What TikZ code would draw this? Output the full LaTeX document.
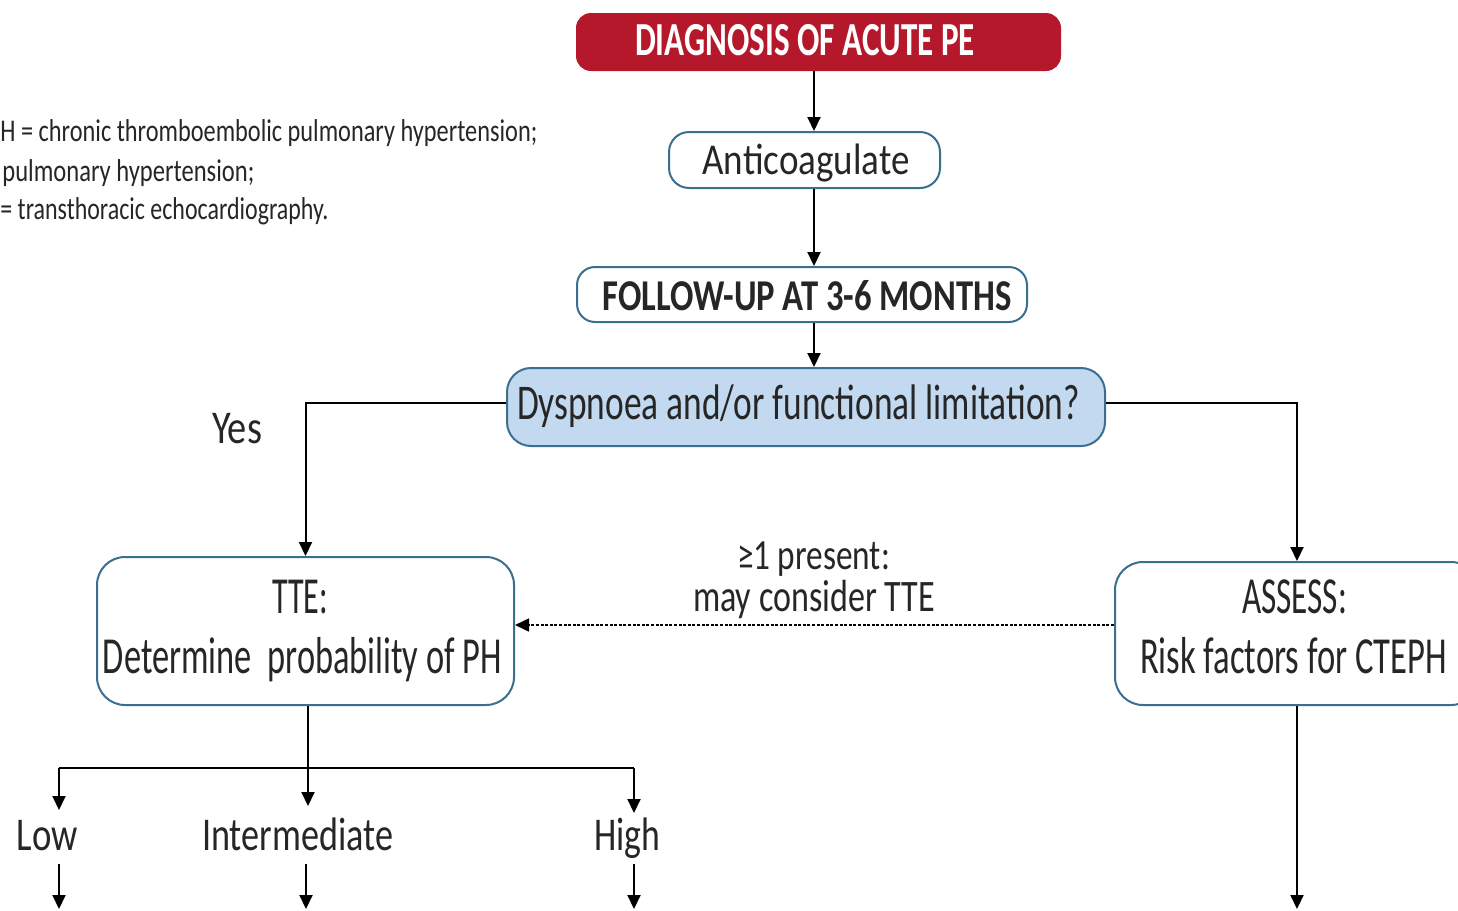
\documentclass[tikz,border=0pt]{standalone}
\usepackage{fontspec}
\setmainfont{Carlito}
\usepackage{graphicx}
\usetikzlibrary{arrows.meta,calc}
\definecolor{redc}{HTML}{B5182B}
\definecolor{bord}{HTML}{3A6F90}
\definecolor{dysc}{HTML}{C3D9F0}
\definecolor{txt}{HTML}{262626}
\newsavebox\fitbox
\newcommand\fitw[2]{\sbox\fitbox{#2}\pgfmathsetmacro\fitsx{#1/\the\wd\fitbox}\scalebox{\fitsx}[1]{\usebox\fitbox}}
\tikzset{
  box/.style={draw=bord, line width=1pt, rounded corners=10pt, inner sep=0pt, fill=white},
  lbl/.style={anchor=base, inner sep=0pt, text=txt},
  arr/.style={line width=1pt, draw=black, -{Triangle[length=7pt,width=6.5pt]}},
  ln/.style={line width=1pt, draw=black},
  dotarr/.style={line width=0.8pt, draw=black, dash pattern=on 1.5pt off 0.8pt, -{Triangle[length=7pt,width=6.5pt]}}
}
\begin{document}
\begin{tikzpicture}[x=0.5pt,y=-0.5pt]
\useasboundingbox (0,0) rectangle (1458,911);
\fill[white] (0,0) rectangle (1458,911);
% legend
\node[lbl, anchor=base west, font=\fontsize{15.8pt}{19pt}\selectfont] (leg1) at (0,141) {\fitw{268.5}{H = chronic thromboembolic pulmonary hypertension;}};
\node[lbl, anchor=base west, font=\fontsize{15.8pt}{19pt}\selectfont] (leg2) at (2,181) {\fitw{126}{pulmonary hypertension;}};
\node[lbl, anchor=base west, font=\fontsize{15.8pt}{19pt}\selectfont] (leg3) at (0,219) {\fitw{164}{= transthoracic echocardiography.}};
% boxes
\node[box, fill=redc, draw=redc, rounded corners=7pt, minimum width=241.5pt, minimum height=28pt] (red) at (818.5,42) {};
\node[lbl, text=white, font=\bfseries\fontsize{23.7pt}{28pt}\selectfont] (redt) at (805,55) {\fitw{170}{DIAGNOSIS OF ACUTE PE}};
\node[box, minimum width=135.5pt, minimum height=28pt] (anti) at (804.5,160) {};
\node[lbl, font=\fontsize{22pt}{26pt}\selectfont] (antit) at (806,174) {\fitw{103.5}{Anticoagulate}};
\node[box, rounded corners=9pt, minimum width=225pt, minimum height=27.5pt] (fu) at (802,294.5) {};
\node[lbl, font=\bfseries\fontsize{22pt}{26pt}\selectfont] (fut) at (807,310) {\fitw{204.5}{FOLLOW-UP AT 3-6 MONTHS}};
\node[box, fill=dysc, rounded corners=12pt, minimum width=299pt, minimum height=39pt] (dys) at (806,407) {};
\node[lbl, font=\fontsize{25pt}{30pt}\selectfont] (dyst) at (798.5,419) {\fitw{281.5}{Dyspnoea and/or functional limitation?}};
\node[box, rounded corners=14pt, minimum width=208.5pt, minimum height=74pt] (tte) at (305.5,631) {};
\node[lbl, font=\fontsize{26pt}{30pt}\selectfont] (ttet1) at (300,613) {\fitw{28}{TTE:}};
\node[lbl, font=\fontsize{26pt}{30pt}\selectfont] (ttet2) at (302.5,673) {\fitw{199.5}{Determine\ \ probability of PH}};
\node[box, rounded corners=14pt, minimum width=182pt, minimum height=71.5pt] (assess) at (1297,633.5) {};
\node[lbl, font=\fontsize{26pt}{30pt}\selectfont] (asst1) at (1294.5,613) {\fitw{52.5}{ASSESS:}};
\node[lbl, font=\fontsize{26pt}{30pt}\selectfont] (asst2) at (1293.5,673) {\fitw{153.5}{Risk factors for CTEPH}};
% labels
\node[lbl, font=\fontsize{21.5pt}{26pt}\selectfont] (pres1) at (813.5,569) {\fitw{76.5}{≥1 present:}};
\node[lbl, font=\fontsize{22.5pt}{26pt}\selectfont] (pres2) at (814,611) {\fitw{121}{may consider TTE}};
\node[lbl, font=\fontsize{23.5pt}{28pt}\selectfont] (yes) at (237,443) {\fitw{25}{Yes}};
\node[lbl, font=\fontsize{23.5pt}{28pt}\selectfont] (low) at (47.5,850) {\fitw{30.5}{Low}};
\node[lbl, font=\fontsize{23.5pt}{28pt}\selectfont] (int) at (297.5,850) {\fitw{95.5}{Intermediate}};
\node[lbl, font=\fontsize{23.5pt}{28pt}\selectfont] (high) at (627,850) {\fitw{33}{High}};
% coordinates
\coordinate (spine) at (814,0);
\coordinate (brY) at (0,403);
\coordinate (dotY) at (0,625);
\coordinate (hL) at (59,768);
\coordinate (hM) at (308,768);
\coordinate (hR) at (634,768);
\coordinate (tL) at (59,810);
\coordinate (tM) at (308,806);
\coordinate (tR) at (634,813);
\coordinate (bL) at (59,864);
\coordinate (eL) at (59,909);
\coordinate (bM) at (306,864);
\coordinate (eM) at (306,909);
\coordinate (bR) at (634,864);
\coordinate (eR) at (634,909);
\coordinate (eA) at (1297,909);
% connectors
\draw[arr] (red.south -| spine) -- (anti.north -| spine);
\draw[arr] (anti.south -| spine) -- (fu.north -| spine);
\draw[arr] (fu.south -| spine) -- (dys.north -| spine);
\draw[arr] (dys.west |- brY) -| (tte.north);
\draw[arr] (dys.east |- brY) -| (assess.north);
\draw[dotarr] (assess.west |- dotY) -- (tte.east |- dotY);
\draw[arr] (tte.south -| hM) -- (tM);
\draw[ln] (hL) -- (hR);
\draw[arr] (hL) -- (tL);
\draw[arr] (hR) -- (tR);
\draw[arr] (bL) -- (eL);
\draw[arr] (bM) -- (eM);
\draw[arr] (bR) -- (eR);
\draw[arr] (assess.south) -- (eA);
\end{tikzpicture}
\end{document}
